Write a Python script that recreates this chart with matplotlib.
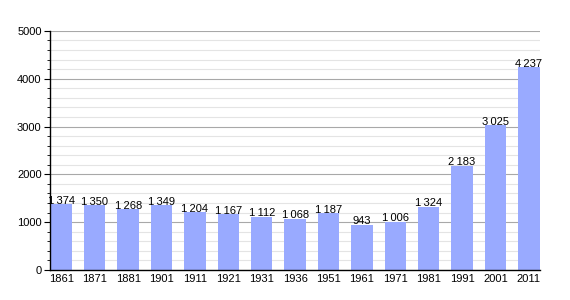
import matplotlib.pyplot as plt
from matplotlib.ticker import MultipleLocator

plt.rcParams["font.family"] = ["Liberation Sans", "DejaVu Sans"]

years = ["1861", "1871", "1881", "1901", "1911", "1921", "1931", "1936",
         "1951", "1961", "1971", "1981", "1991", "2001", "2011"]
population = [1374, 1350, 1268, 1349, 1204, 1167, 1112, 1068,
              1187, 943, 1006, 1324, 2183, 3025, 4237]

fig = plt.figure(figsize=(5.7, 3.0), dpi=100)
ax = fig.add_axes([0.0877, 0.1, 0.86, 0.797])

x = range(len(years))
ax.bar(x, population, width=0.64, color="#99aaff", zorder=2)

for xi, v in zip(x, population):
    label = f"{v:,}".replace(",", "\u2009")
    ax.text(xi, v - 30, label, ha="center", va="bottom", fontsize=8, zorder=3)

ax.set_xlim(-0.34, len(years) - 0.66)
ax.set_ylim(0, 5000)
ax.set_xticks(list(x))
ax.set_xticklabels(years)
ax.yaxis.set_major_locator(MultipleLocator(1000))
ax.yaxis.set_minor_locator(MultipleLocator(200))
ax.grid(axis="y", which="major", color="#a8a8a8", linewidth=0.8, zorder=0)
ax.grid(axis="y", which="minor", color="#e4e4e4", linewidth=0.8, zorder=0)

for side in ["top", "right"]:
    ax.spines[side].set_visible(False)
ax.spines["left"].set_linewidth(1.0)
ax.spines["bottom"].set_linewidth(1.0)
ax.tick_params(axis="x", length=0, labelsize=8, pad=3)
ax.tick_params(axis="y", which="major", length=4, labelsize=8, pad=2)
ax.tick_params(axis="y", which="minor", length=2)

fig.savefig("out.png", dpi=100)
